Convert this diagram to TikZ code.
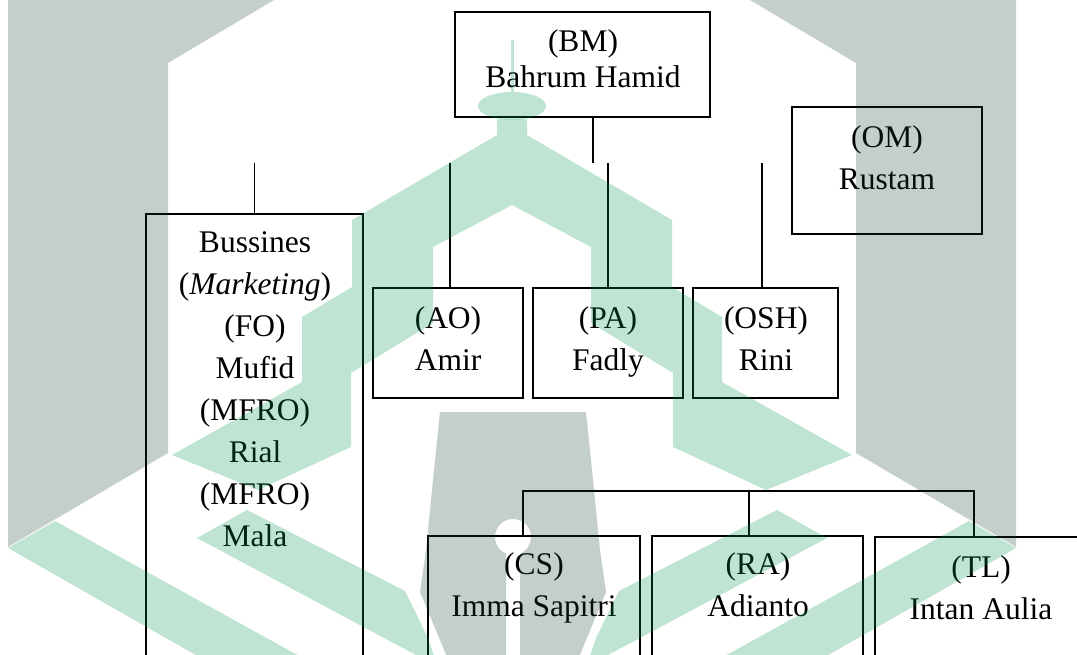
\documentclass[tikz,border=0pt]{standalone}
\usepackage{fontspec}
\setmainfont{Liberation Serif}
\definecolor{wmgreen}{RGB}{3,155,79}
\definecolor{wmgray}{RGB}{23,63,47}
\begin{document}
\begin{tikzpicture}[x=1pt,y=-1pt,
  box/.style={draw=black, line width=1.8pt, inner sep=0pt, fill=none},
  wire/.style={draw=black, line width=1.8pt},
  txt/.style={anchor=base, inner sep=0pt, font=\fontsize{31.5}{42}\selectfont},
  txtbm/.style={anchor=base, inner sep=0pt, font=\fontsize{31.5}{36}\selectfont},
  wm/.style={fill opacity=0.25}]
\useasboundingbox (0,0) rectangle (1077,655);
\fill[white] (0,0) rectangle (1077,655);

% ---------- boxes ----------
\node[box, minimum width=255pt, minimum height=105pt] (bm)  at (582.5,64.5) {};
\node[box, minimum width=190pt, minimum height=127pt] (om)  at (887,170.5) {};
\node[box, minimum width=150pt, minimum height=110pt] (ao)  at (448,343) {};
\node[box, minimum width=150pt, minimum height=110pt] (pa)  at (608,343) {};
\node[box, minimum width=145pt, minimum height=110pt] (osh) at (765.5,343) {};
\node[box, minimum width=217pt, minimum height=546pt] (bus) at (254.5,487) {};
\node[box, minimum width=212pt, minimum height=224pt] (cs)  at (534,648) {};
\node[box, minimum width=211pt, minimum height=224pt] (ra)  at (757.5,648) {};
\node[box, minimum width=325pt, minimum height=223pt] (tl)  at (1037.5,648.5) {};

% ---------- texts ----------
\node[txtbm] (bmt) at (583,52) {\begin{tabular}[t]{@{}c@{}}(BM)\\Bahrum Hamid\end{tabular}};
\node[txt] (omt) at (887,148) {\begin{tabular}[t]{@{}c@{}}(OM)\\Rustam\end{tabular}};
\node[txt] (aot) at (448,328) {\begin{tabular}[t]{@{}c@{}}(AO)\\Amir\end{tabular}};
\node[txt] (pat) at (608,328) {\begin{tabular}[t]{@{}c@{}}(PA)\\Fadly\end{tabular}};
\node[txt] (osht) at (766,328) {\begin{tabular}[t]{@{}c@{}}(OSH)\\Rini\end{tabular}};
\node[txt] (bust) at (255,253) {\begin{tabular}[t]{@{}c@{}}Bussines\\(\textit{Marketing})\\(FO)\\Mufid\\(MFRO)\\Rial\\(MFRO)\\Mala\end{tabular}};
\node[txt] (cst) at (534,574) {\begin{tabular}[t]{@{}c@{}}(CS)\\Imma Sapitri\end{tabular}};
\node[txt] (rat) at (758,574) {\begin{tabular}[t]{@{}c@{}}(RA)\\Adianto\end{tabular}};
\node[txt] (tlt) at (981,577) {\begin{tabular}[t]{@{}c@{}}(TL)\\Intan Aulia\end{tabular}};

% ---------- connectors ----------
\coordinate (sbm) at (593,163);
\coordinate (sbus) at (254.5,163);
\coordinate (sao) at (450,163);
\coordinate (spa) at (608,163);
\coordinate (sosh) at (762,163);
\draw[wire] (sbm |- bm.south) -- (sbm);
\draw[wire] (sbus) -- (bus.north);
\draw[wire] (sao) -- (sao |- ao.north);
\draw[wire] (spa) -- (pa.north);
\draw[wire] (sosh) -- (sosh |- osh.north);

\coordinate (hl) at (523,491);
\coordinate (hm) at (749,491);
\coordinate (hr) at (974,491);
\draw[wire] (hl |- cs.north) -- (hl) -- (hr) -- (hr |- tl.north);
\draw[wire] (hm) -- (hm |- ra.north);

% ---------- watermark ----------
\begin{scope}[wm]
\fill[wmgray] (8,0) -- (274,0) -- (168,63) -- (168,453) -- (8,547) -- cycle;
\fill[wmgray] (1016,0) -- (750,0) -- (856,63) -- (856,453) -- (1016,547) -- cycle;
\fill[wmgray, even odd rule] (440,412) -- (586,412) -- (593,480) -- (600,550) -- (606,592) -- (591,628) -- (577,662) -- (449,662) -- (435,628) -- (420,592) -- (426,550) -- (433,480) -- cycle
  (506,664) -- plot[domain=112.9:427.1, samples=60] ({513+18*cos(\x)},{537+18*sin(\x)}) -- (520,664) -- cycle;
\fill[wmgreen] (510.5,40) rectangle (513.5,92.5);
\fill[wmgreen] (512,106) ellipse [x radius=34, y radius=14];
\fill[wmgreen] (497,119.5) -- (497,135) -- (352,220) -- (352,287) -- (302,317) -- (302,382) -- (172,455) -- (258,490) -- (351,447) -- (351,373) -- (433,323) -- (433,247) -- (512,205) -- (591,247) -- (591,323) -- (673,373) -- (673,447) -- (766,490) -- (852,455) -- (722,382) -- (722,317) -- (672,287) -- (672,220) -- (527,135) -- (527,119.5) -- cycle;
\fill[wmgreen] (197,538) -- (247,510) -- (405,591) -- (428,638) -- (436,662) -- (429,662) -- cycle;
\fill[wmgreen] (827,538) -- (777,510) -- (619,591) -- (596,638) -- (588,662) -- (595,662) -- cycle;
\fill[wmgreen] (8,548) -- (55,521) -- (310,662) -- (208,662) -- cycle;
\fill[wmgreen] (1016,548) -- (969,521) -- (714,662) -- (816,662) -- cycle;
\end{scope}
\end{tikzpicture}
\end{document}
